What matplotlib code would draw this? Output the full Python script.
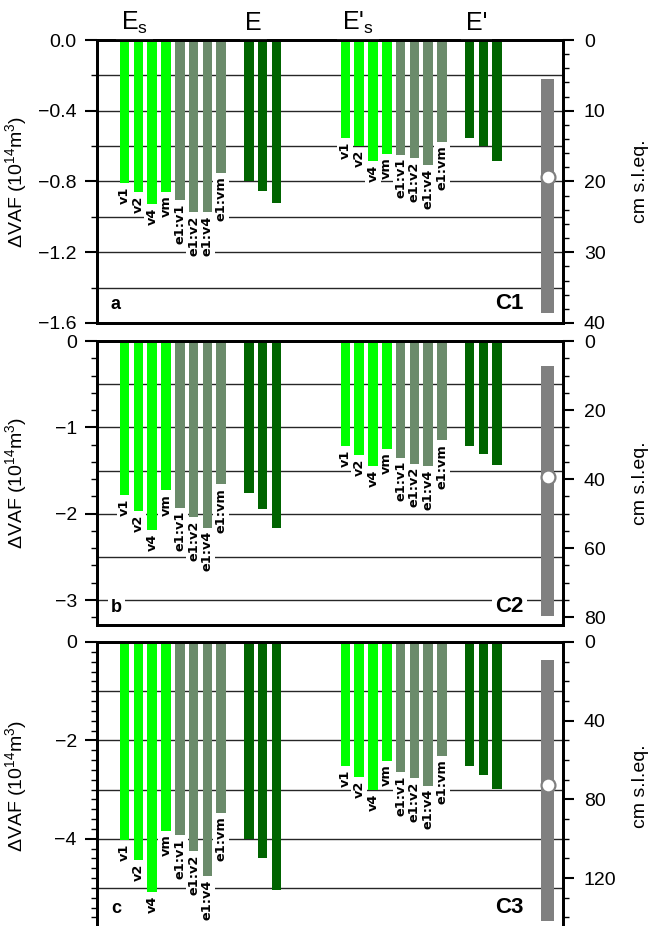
import numpy as np
import matplotlib
matplotlib.use('Agg')
from matplotlib import pyplot as plt
from matplotlib.ticker import MultipleLocator, FuncFormatter
import matplotlib.transforms as mtransforms

plt.rcParams['font.family'] = ['Liberation Sans', 'DejaVu Sans']
plt.rcParams['mathtext.fontset'] = 'custom'
plt.rcParams['mathtext.rm'] = 'Liberation Sans'
plt.rcParams['mathtext.it'] = 'Liberation Sans:italic'
plt.rcParams['mathtext.bf'] = 'Liberation Sans:bold'

# --- data (10^14 m^3) ---
bar_labels = ['v1', 'v2', 'v4', 'vm', 'e1:v1', 'e1:v2', 'e1:v4', 'e1:vm']
headers = ['E$_{\\rm s}$', 'E', "E'$_{\\rm s}$", "E'"]

a_Es = [-0.807, -0.860, -0.930, -0.858, -0.907, -0.971, -0.971, -0.753]
a_E = [-0.800, -0.851, -0.922]
a_Eps = [-0.556, -0.601, -0.685, -0.642, -0.648, -0.667, -0.708, -0.575]
a_Ep = [-0.554, -0.601, -0.685]

b_Es = [-1.78, -1.97, -2.19, -1.73, -1.93, -2.04, -2.16, -1.66]
b_E = [-1.76, -1.94, -2.16]
b_Eps = [-1.22, -1.32, -1.45, -1.25, -1.35, -1.42, -1.45, -1.15]
b_Ep = [-1.22, -1.31, -1.44]

c_Es = [-4.02, -4.43, -5.09, -3.84, -3.92, -4.25, -4.76, -3.48]
c_E = [-4.00, -4.40, -5.05]
c_Eps = [-2.53, -2.74, -3.01, -2.42, -2.64, -2.76, -2.92, -2.32]
c_Ep = [-2.52, -2.71, -2.99]

# grey range in cm s.l.eq.: low, high, central
a_range = [5.5, 38.6, 19.3]
b_range = [7.2, 79.6, 39.3]
c_range = [9.1, 142.0, 72.7]

cm_per_unit = 25.0

lime = '#00ff00'
sage = '#6b8b6b'
dark = '#006400'
grey = '#808080'

group_start = [2, 11, 18, 27]
range_x = 32.65
xmax = 33.77

panels = [
    dict(vals=[a_Es, a_E, a_Eps, a_Ep], rng=a_range, pos=[0.1497, 0.6512, 0.7191, 0.3056],
         ylim=-1.6, major=0.4, minor=0.2, fmt='%.1f', grid=np.arange(-0.2, -1.5, -0.2),
         rmajor=10, rminor=2, letter='a', letter_y=-1.52, tag='C1'),
    dict(vals=[b_Es, b_E, b_Eps, b_Ep], rng=b_range, pos=[0.1497, 0.3250, 0.7191, 0.3067],
         ylim=-3.29, major=1, minor=0.2, fmt='%d', grid=np.arange(-0.5, -3.1, -0.5),
         rmajor=20, rminor=5, letter='b', letter_y=-3.14, tag='C2'),
    dict(vals=[c_Es, c_E, c_Eps, c_Ep], rng=c_range, pos=[0.1497, -0.0041, 0.7191, 0.3108],
         ylim=-5.85, major=2, minor=0.2, fmt='%d', grid=np.arange(-1, -5.1, -1),
         rmajor=40, rminor=10, letter='c', letter_y=-5.51, tag='C3'),
]


def minus_fmt(fmt):
    return FuncFormatter(lambda v, pos: (fmt % (0.0 if abs(v) < 1e-9 else v)).replace('-', '\u2212'))


fig = plt.figure(figsize=(6.48, 9.26), dpi=100)

for k, p in enumerate(panels):
    ax = fig.add_axes(p['pos'])
    ax.set_xlim(0, xmax)
    ax.set_ylim(p['ylim'], 0)
    for yy in p['grid']:
        ax.axhline(yy, color='0.15', lw=1, zorder=1)

    for g, vals in enumerate(p['vals']):
        xs = group_start[g] + np.arange(len(vals))
        if len(vals) == 8:
            cols = [lime] * 4 + [sage] * 4
        else:
            cols = [dark] * 3
        ax.bar(xs, vals, width=0.7, color=cols, zorder=2)
        if len(vals) == 8:
            for xx, v, lab in zip(xs, vals, bar_labels):
                ax.annotate(lab, (xx, v), xytext=(0, -2.5), textcoords='offset points',
                            rotation=90, ha='center', va='top', fontsize=9.3,
                            fontweight='bold', family='DejaVu Sans', zorder=4,
                            bbox=dict(boxstyle='square,pad=0.12', fc='white', ec='none'))
        if k == 0:
            trans = mtransforms.blended_transform_factory(ax.transData, ax.transAxes)
            ax.text(group_start[g] - 0.25, 1.035, headers[g], transform=trans,
                    ha='left', va='baseline', fontsize=18, zorder=5,
                    bbox=dict(boxstyle='square,pad=0.2', fc='white', ec='none'))

    ax.text(0.03, p['letter_y'], p['letter'], transform=mtransforms.blended_transform_factory(ax.transAxes, ax.transData),
            ha='left', va='baseline', fontsize=13, fontweight='bold', zorder=4,
            bbox=dict(boxstyle='square,pad=0.15', fc='white', ec='none'))
    ax.text(30.9, p['letter_y'], p['tag'], ha='right', va='baseline', fontsize=16,
            fontweight='bold', zorder=4,
            bbox=dict(boxstyle='square,pad=0.15', fc='white', ec='none'))

    ax.set_xticks([])
    ax.yaxis.set_major_locator(MultipleLocator(p['major']))
    ax.yaxis.set_minor_locator(MultipleLocator(p['minor']))
    ax.yaxis.set_major_formatter(minus_fmt(p['fmt']))
    ax.tick_params(axis='y', which='major', length=8.5, width=1.5, labelsize=14, pad=6)
    ax.tick_params(axis='y', which='minor', length=4, width=1)
    ax.set_ylabel('ΔVAF (10$^{14}$m$^{3}$)', fontsize=14)
    ax.yaxis.set_label_coords(-0.146, 0.5)
    for s in ax.spines.values():
        s.set_linewidth(2)

    ax2 = ax.twinx()
    ax2.set_ylim(-p['ylim'] * cm_per_unit, 0)
    lo, hi, mid = p['rng']
    ax2.bar([range_x], [hi - lo], bottom=[lo], width=0.95, color=grey, zorder=3)
    ax2.plot([range_x], [mid], 'o', mfc='white', mec=grey, ms=10, mew=1.6, zorder=4)
    ax2.yaxis.set_major_locator(MultipleLocator(p['rmajor']))
    ax2.yaxis.set_minor_locator(MultipleLocator(p['rminor']))
    ax2.tick_params(axis='y', which='major', length=8, width=1.5, labelsize=14, pad=7)
    ax2.tick_params(axis='y', which='minor', length=4.5, width=1)
    ax2.set_ylabel('cm s.l.eq.', fontsize=14)
    ax2.yaxis.set_label_coords(1.148, 0.5)
    for s in ax2.spines.values():
        s.set_linewidth(2)

fig.savefig('out.png', dpi=100)
